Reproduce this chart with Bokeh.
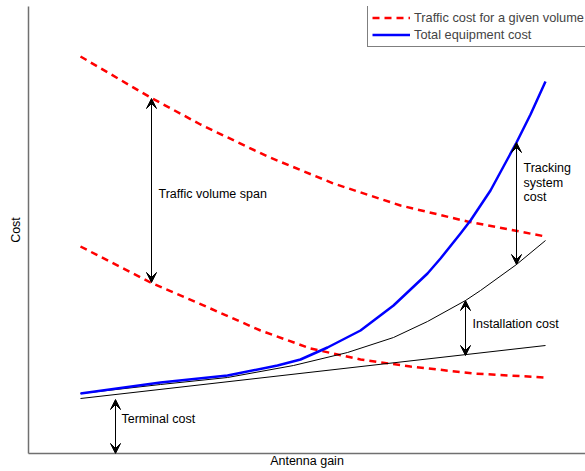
from bokeh.plotting import figure
from bokeh.models import Range1d, Arrow, VeeHead, Label, Legend, LegendItem
from bokeh.embed import file_html
from bokeh.resources import INLINE

# ---- data (arbitrary cost units vs antenna gain units) ----
traffic_high_x = [80, 150, 200, 267, 333, 400, 467, 545]
traffic_high_y = [397, 356, 329, 297, 270, 248, 232, 217]

traffic_low_x = [80, 150, 210, 260, 310, 360, 410, 473, 545]
traffic_low_y = [207, 171, 145, 123, 105, 94, 87, 80, 76]

total_x = [80, 160, 227, 277, 300, 327, 360, 393, 427, 440, 460, 470, 490, 516, 530, 545]
total_y = [60, 71, 78, 88, 94, 106, 123, 148, 180, 195, 220, 233, 263, 311, 339, 372]

install_x = [80, 160, 227, 293, 347, 393, 427, 465, 480, 516, 545]
install_y = [60, 69, 76, 88, 101, 116, 132, 153, 163, 189, 213]

terminal_x = [80, 545]
terminal_y = [55, 108]

# annotation arrows: x, from, to
arrow_x = [115, 151, 465, 516]
arrow_from = [0, 355, 98, 189]
arrow_to = [54, 171, 153, 311]

label_texts = ["Terminal cost", "Traffic volume span", "Installation cost"]
label_x = [121, 158, 472]
label_y = [35, 260, 130]
tracking_lines = ["Tracking", "system", "cost"]
tracking_x = 523
tracking_y = [286, 271, 257]

FONT = "Liberation Sans"
FS = "12.5px"

p = figure(width=585, height=471, output_backend="svg", toolbar_location=None,
           x_range=Range1d(28, 585), y_range=Range1d(0, 447),
           min_border_left=28, min_border_right=0, min_border_top=6,
           min_border_bottom=18)
p.outline_line_color = None
p.grid.visible = False
p.background_fill_color = "white"

for ax in (p.xaxis[0], p.yaxis[0]):
    ax.ticker = []
    ax.major_tick_line_color = None
    ax.minor_tick_line_color = None
    ax.major_label_text_font_size = "0px"
    ax.major_tick_out = 0
    ax.major_tick_in = 0
    ax.axis_line_color = "#707070"
    ax.axis_line_width = 1.5
    ax.axis_label_text_font = FONT
    ax.axis_label_text_font_size = FS
    ax.axis_label_text_font_style = "normal"
    ax.axis_label_text_color = "black"
    ax.major_label_standoff = 0
p.xaxis.axis_label = "Antenna gain"
p.xaxis.axis_label_standoff = 0
p.yaxis.axis_label = "Cost"
p.yaxis.axis_label_standoff = 6

r_hi = p.line(traffic_high_x, traffic_high_y, line_color="#ff0000", line_width=2.5,
              line_dash="7 5")
p.line(traffic_low_x, traffic_low_y, line_color="#ff0000", line_width=2.5,
       line_dash="7 5")
p.line(terminal_x, terminal_y, line_color="black", line_width=1)
p.line(install_x, install_y, line_color="black", line_width=1)
r_tot = p.line(total_x, total_y, line_color="#0000ff", line_width=2.5,
               line_join="round")

for xa, y0, y1 in zip(arrow_x, arrow_from, arrow_to):
    p.add_layout(Arrow(x_start=xa, y_start=y0, x_end=xa, y_end=y1,
                       line_color="black", line_width=1,
                       start=VeeHead(size=10, fill_color="black", line_color="black", line_width=1),
                       end=VeeHead(size=10, fill_color="black", line_color="black", line_width=1)))

for t, lx, ly in zip(label_texts, label_x, label_y):
    p.add_layout(Label(x=lx, y=ly, text=t, text_font=FONT, text_font_size=FS,
                       text_baseline="middle", text_align="left", text_color="black"))
for t, ly in zip(tracking_lines, tracking_y):
    p.add_layout(Label(x=tracking_x, y=ly, text=t, text_font=FONT, text_font_size=FS,
                       text_baseline="middle", text_align="left", text_color="black"))

legend = Legend(items=[LegendItem(label="Traffic cost for a given volume", renderers=[r_hi]),
                       LegendItem(label="Total equipment cost", renderers=[r_tot])],
                location=(339, 406), orientation="vertical",
                glyph_width=38, glyph_height=13, label_height=13, spacing=2,
                padding=4, margin=0, label_standoff=4,
                label_text_font=FONT, label_text_font_size="12.8px",
                border_line_color="black", border_line_width=1.2,
                background_fill_color="white", background_fill_alpha=1.0)
p.add_layout(legend)

open("out.html", "w").write(file_html(p, INLINE))
